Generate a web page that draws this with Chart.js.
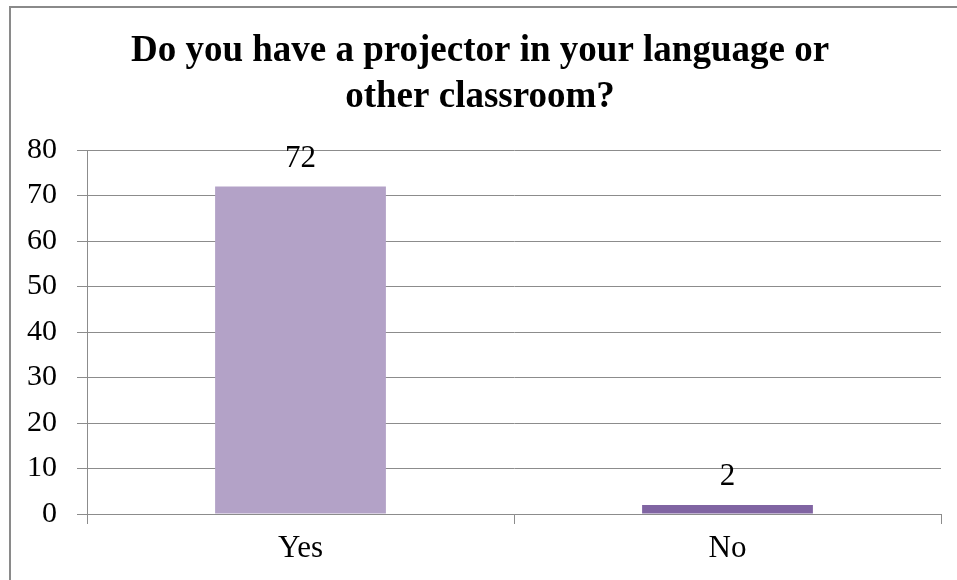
<!DOCTYPE html>
<html><head><meta charset="utf-8">
<script src="https://cdn.jsdelivr.net/npm/chart.js@4"></script>
<style>html,body{margin:0;padding:0;background:#fff}#wrap{width:957px;height:580px}</style>
</head><body><div id="wrap"><canvas id="c" width="957" height="580"></canvas></div>
<script>
const categories = ["Yes", "No"];
const values = [72, 2];
const barColors = ["#B3A2C7", "#8064A2"];
const yTicks = [0, 10, 20, 30, 40, 50, 60, 70, 80];
const titleLines = ["Do you have a projector in your language or", "other classroom?"];

const FONT = "'Liberation Serif', 'Times New Roman', serif";

const framePlugin = {
  id: 'frame',
  beforeDraw(chart) {
    const ctx = chart.ctx;
    ctx.save();
    ctx.fillStyle = '#fff';
    ctx.fillRect(0, 0, chart.width, chart.height);
    ctx.strokeStyle = '#8a8a8a';
    ctx.lineWidth = 2;
    ctx.strokeRect(10, 7, chart.width + 20, chart.height + 20);
    ctx.restore();
  }
};

const titlePlugin = {
  id: 'customTitle',
  afterDraw(chart) {
    const ctx = chart.ctx;
    ctx.save();
    ctx.fillStyle = '#000';
    ctx.font = 'bold 37px ' + FONT;
    ctx.textAlign = 'center';
    ctx.textBaseline = 'middle';
    titleLines.forEach((t, i) => ctx.fillText(t, 480, 51 + i * 46));
    ctx.restore();
  }
};

const labelPlugin = {
  id: 'valueLabels',
  afterDatasetsDraw(chart) {
    const ctx = chart.ctx;
    const meta = chart.getDatasetMeta(0);
    ctx.save();
    ctx.fillStyle = '#000';
    ctx.font = '31px ' + FONT;
    ctx.textAlign = 'center';
    ctx.textBaseline = 'middle';
    meta.data.forEach((bar, i) => {
      ctx.fillText(String(values[i]), bar.x, bar.y - 28);
    });
    ctx.restore();
  }
};

new Chart(document.getElementById('c'), {
  type: 'bar',
  data: {
    labels: categories,
    datasets: [{
      data: values,
      backgroundColor: barColors,
      borderWidth: 0,
      barPercentage: 0.4,
      categoryPercentage: 1.0
    }]
  },
  options: {
    responsive: false,
    animation: false,
    layout: { padding: { left: 0, right: 16, top: 150, bottom: 0 } },
    plugins: {
      legend: { display: false },
      tooltip: { enabled: false },
      title: { display: false }
    },
    scales: {
      x: {
        grid: { display: true, drawOnChartArea: false, drawTicks: true, tickLength: 10, color: '#8c8c8c', offset: true },
        border: { display: true, color: '#8c8c8c', width: 1 },
        ticks: { color: '#000', font: { family: FONT, size: 31 }, padding: 6 },
        afterFit(scale) { scale.height = 66; }
      },
      y: {
        min: 0, max: 80,
        afterBuildTicks(scale) { scale.ticks = yTicks.map(v => ({ value: v })); },
        grid: { color: '#8c8c8c', drawTicks: true, tickLength: 10 },
        border: { display: true, color: '#8c8c8c', width: 1 },
        ticks: { color: '#000', font: { family: FONT, size: 30 }, padding: 20 },
        afterFit(scale) { scale.width = 87; }
      }
    }
  },
  plugins: [framePlugin, titlePlugin, labelPlugin]
});
</script>
</body></html>
